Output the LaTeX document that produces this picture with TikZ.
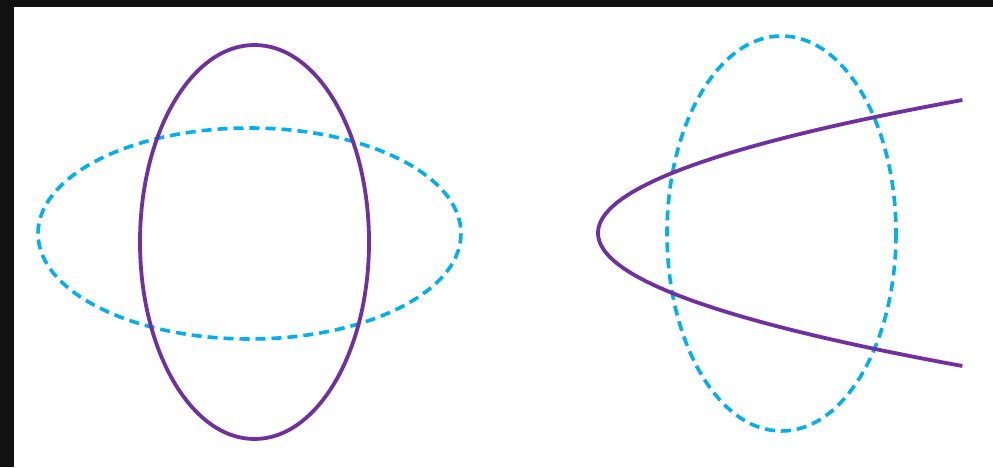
\documentclass[tikz,border=0pt]{standalone}
\usepackage{tikz}
\definecolor{framedark}{HTML}{111111}
\definecolor{curvepurple}{HTML}{7030A0}
\definecolor{curveblue}{HTML}{00B0F0}
\tikzset{
  solidcurve/.style={draw=curvepurple, line width=3.8pt},
  dashcurve/.style={draw=curveblue, line width=3.6pt, dash pattern=on 10pt off 6pt}
}
\begin{document}
\begin{tikzpicture}[x=1pt,y=-1pt]
\useasboundingbox (0,0) rectangle (993,467);
\fill[framedark] (0,0) rectangle (993,467);
\fill[white] (14,7) rectangle (993,467);
% left pair
\draw[dashcurve] (249.5,233.5) ellipse [x radius=211.5, y radius=105.5];
\draw[solidcurve] (254.5,242) ellipse [x radius=114.5, y radius=197];
% right pair
\draw[dashcurve] (781.5,233.5) ellipse [x radius=114.5, y radius=197.5];
\draw[solidcurve] plot[domain=-13.3:13.3, smooth, samples=80] ({598+2.06*\x*\x},{233+10*\x});
\end{tikzpicture}
\end{document}
